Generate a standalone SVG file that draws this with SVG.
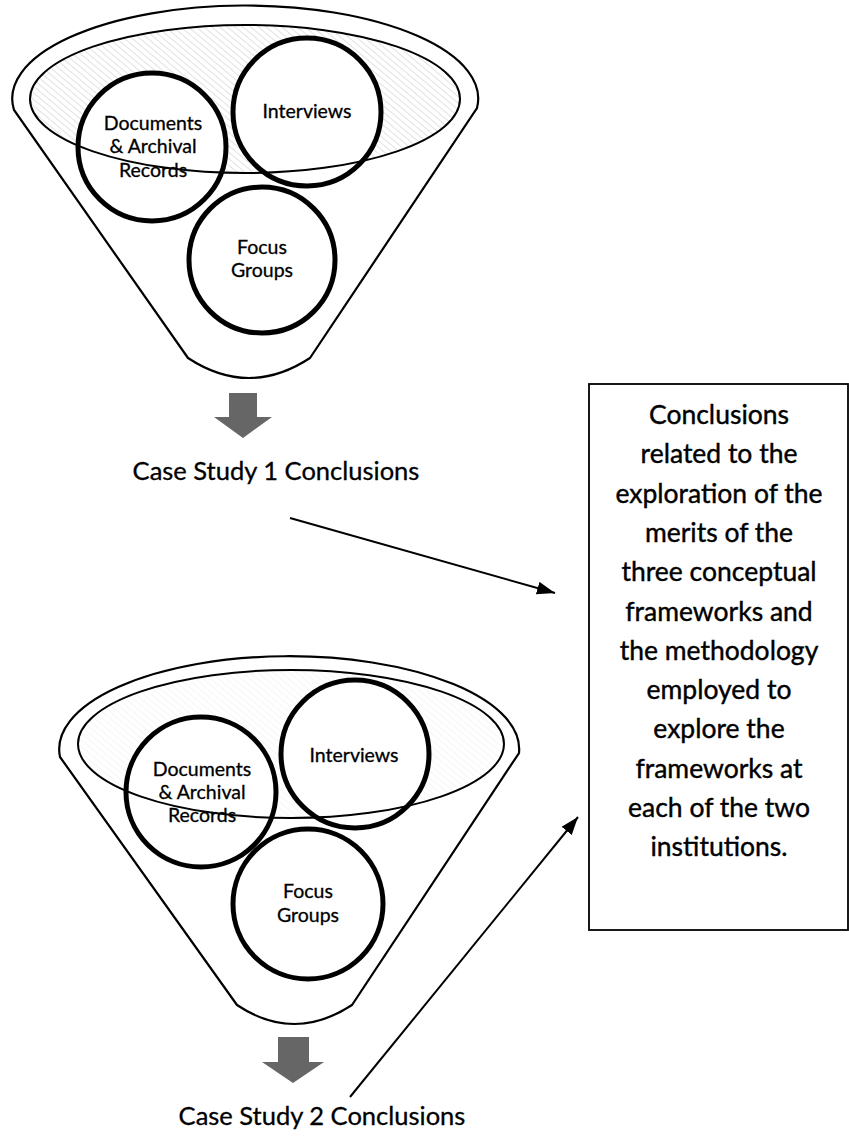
<svg xmlns="http://www.w3.org/2000/svg" width="849" height="1141" viewBox="0 0 849 1141">
<style>
.outline{fill:none;stroke:#000;stroke-width:2.2}
.inner{fill:none;stroke:#000;stroke-width:2}
.circ{fill:#fff;stroke:#000;stroke-width:5}
.lbl{font-family:Lato,"Liberation Sans",sans-serif;font-size:19.5px;fill:#000;stroke:#000;stroke-width:0.3;text-anchor:middle}
.cap{font-family:Lato,"Liberation Sans",sans-serif;font-size:25.5px;fill:#000;stroke:#000;stroke-width:0.3;text-anchor:middle}
.box{fill:#fff;stroke:#000;stroke-width:1.8}
.btxt{font-family:Lato,"Liberation Sans",sans-serif;font-size:26.5px;fill:#000;stroke:#000;stroke-width:0.4;text-anchor:middle}
.down{fill:#666}
.conn{fill:none;stroke:#000;stroke-width:2}
</style>
<defs>
<pattern id="hatch" width="5" height="5" patternUnits="userSpaceOnUse" patternTransform="rotate(-50)">
<line x1="0" y1="0" x2="0" y2="5" stroke="#888" stroke-width="0.8"/>
</pattern>
<marker id="ah" markerWidth="19" markerHeight="14" refX="18" refY="7" orient="auto" markerUnits="userSpaceOnUse">
<path d="M0,0.5 L18,7 L0,13.5 Z" fill="#000"/>
</marker>
</defs>
<rect width="849" height="1141" fill="#fff"/>

<g id="funnel1">
<path class="outline" d="M188,358 L14,110 A233 93 0 1 1 477,108 L310,358 Q249,398 188,358 Z"/>
<ellipse cx="245" cy="99" rx="215" ry="74" fill="url(#hatch)" opacity="0.6"/>
</g>
<g id="f1-documents">
<circle class="circ" cx="152" cy="147" r="74"/>
<text class="lbl" x="153" y="130">Documents</text>
<text class="lbl" x="153" y="153">&amp; Archival</text>
<text class="lbl" x="153" y="177">Records</text>
</g>
<g id="f1-interviews">
<circle class="circ" cx="307" cy="112" r="74"/>
<text class="lbl" x="307" y="118">Interviews</text>
</g>
<g id="f1-focus">
<circle class="circ" cx="262" cy="260" r="73"/>
<text class="lbl" x="262" y="254">Focus</text>
<text class="lbl" x="262" y="277">Groups</text>
</g>
<g id="f1-rim">
<ellipse class="inner" cx="245" cy="99" rx="215" ry="74"/>
</g>
<g id="down1">
<polygon class="down" points="229,393 257,393 257,417 272,417 243,438 214,417 229,417"/>
</g>
<g id="case1">
<text class="cap" x="276" y="480">Case Study 1 Conclusions</text>
</g>

<g id="funnel2">
<path class="outline" d="M237,1005 L60,757 A230 93 0 1 1 519,753 L352,1005 Q294,1043 237,1005 Z"/>
<ellipse cx="291" cy="744" rx="213" ry="74" fill="url(#hatch)" opacity="0.18"/>
</g>
<g id="f2-documents">
<circle class="circ" cx="201" cy="792" r="75"/>
<text class="lbl" x="202" y="776">Documents</text>
<text class="lbl" x="202" y="799">&amp; Archival</text>
<text class="lbl" x="202" y="822">Records</text>
</g>
<g id="f2-interviews">
<circle class="circ" cx="355" cy="754" r="74"/>
<text class="lbl" x="354" y="762">Interviews</text>
</g>
<g id="f2-focus">
<circle class="circ" cx="308" cy="904" r="75"/>
<text class="lbl" x="308" y="898">Focus</text>
<text class="lbl" x="308" y="922">Groups</text>
</g>
<g id="f2-rim">
<ellipse class="inner" cx="291" cy="744" rx="213" ry="74"/>
</g>
<g id="down2">
<polygon class="down" points="278,1037 309,1037 309,1062 324,1062 293,1083 262,1062 278,1062"/>
</g>
<g id="case2">
<text class="cap" x="322" y="1125">Case Study 2 Conclusions</text>
</g>

<g id="conclusions-box">
<rect class="box" x="589" y="384" width="259" height="546"/>
<text class="btxt" x="719" y="424">Conclusions</text>
<text class="btxt" x="719" y="463.3">related to the</text>
<text class="btxt" x="719" y="502.6">exploration of the</text>
<text class="btxt" x="719" y="541.9">merits of the</text>
<text class="btxt" x="719" y="581.2">three conceptual</text>
<text class="btxt" x="719" y="620.5">frameworks and</text>
<text class="btxt" x="719" y="659.8">the methodology</text>
<text class="btxt" x="719" y="699.1">employed to</text>
<text class="btxt" x="719" y="738.4">explore the</text>
<text class="btxt" x="719" y="777.7">frameworks at</text>
<text class="btxt" x="719" y="817">each of the two</text>
<text class="btxt" x="719" y="856.3">institutions.</text>
</g>

<g id="connectors">
<line class="conn" x1="290" y1="518" x2="555" y2="593" marker-end="url(#ah)"/>
<line class="conn" x1="350" y1="1097" x2="578" y2="817" marker-end="url(#ah)"/>
</g>
</svg>
